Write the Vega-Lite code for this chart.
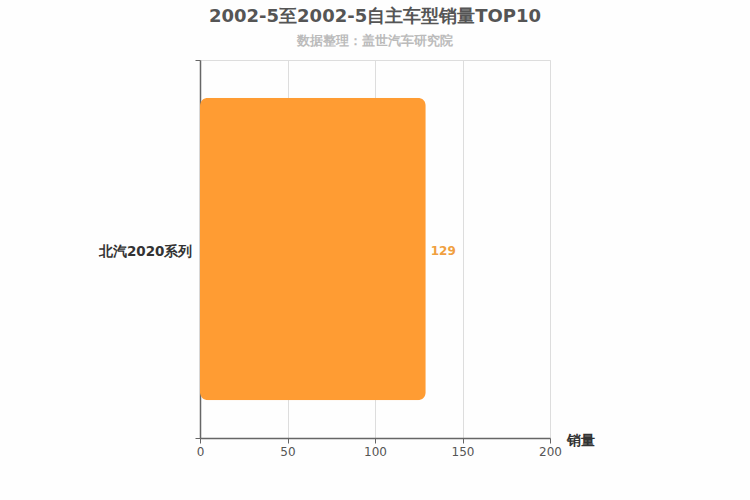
{
  "$schema": "https://vega.github.io/schema/vega-lite/v6.json",
  "autosize": "none",
  "width": 350,
  "height": 378,
  "padding": {"left": 200, "top": 60, "right": 200, "bottom": 62},
  "background": "#fefefe",
  "config": {
    "font": "DejaVu Sans",
    "view": {"stroke": "#dddddd", "strokeWidth": 1}
  },
  "title": {
    "text": "2002-5至2002-5自主车型销量TOP10",
    "subtitle": "数据整理：盖世汽车研究院",
    "anchor": "middle",
    "frame": "group",
    "fontSize": 18,
    "fontWeight": "bold",
    "color": "#555555",
    "subtitleFontSize": 13,
    "subtitleFontWeight": "bold",
    "subtitleColor": "#bbbbbb",
    "subtitlePadding": 9,
    "offset": 5
  },
  "data": {"values": [{"model": "北汽2020系列", "sales": 129}]},
  "encoding": {
    "y": {
      "field": "model",
      "type": "nominal",
      "scale": {"paddingInner": 0, "paddingOuter": 0},
      "axis": {
        "title": null,
        "domainColor": "#666666",
        "domainWidth": 1.5,
        "tickColor": "#666666",
        "tickBand": "extent",
        "tickSize": 5,
        "labelFontSize": 13.5,
        "labelFontWeight": "bold",
        "labelColor": "#333333",
        "labelPadding": 3,
        "labelOffset": 2
      }
    },
    "x": {
      "field": "sales",
      "type": "quantitative",
      "scale": {"domain": [0, 200]},
      "axis": {
        "title": "销量",
        "values": [0, 50, 100, 150, 200],
        "grid": true,
        "gridColor": "#dddddd",
        "domainColor": "#666666",
        "domainWidth": 1.5,
        "tickColor": "#666666",
        "tickSize": 5,
        "labelFlush": false,
        "labelFontSize": 12,
        "labelColor": "#555555",
        "labelPadding": 3,
        "titleFontSize": 14,
        "titleFontWeight": "bold",
        "titleColor": "#333333",
        "titleAlign": "center",
        "titleBaseline": "middle",
        "titleX": 380,
        "titleY": 2
      }
    }
  },
  "layer": [
    {
      "mark": {"type": "bar", "color": "#ff9c33", "cornerRadius": 8, "height": {"band": 0.8}}
    },
    {
      "mark": {"type": "text", "align": "left", "baseline": "middle", "dx": 5, "dy": 2, "fontSize": 12, "fontWeight": "bold", "color": "#f0a040"},
      "encoding": {"text": {"field": "sales", "type": "quantitative"}}
    }
  ]
}
